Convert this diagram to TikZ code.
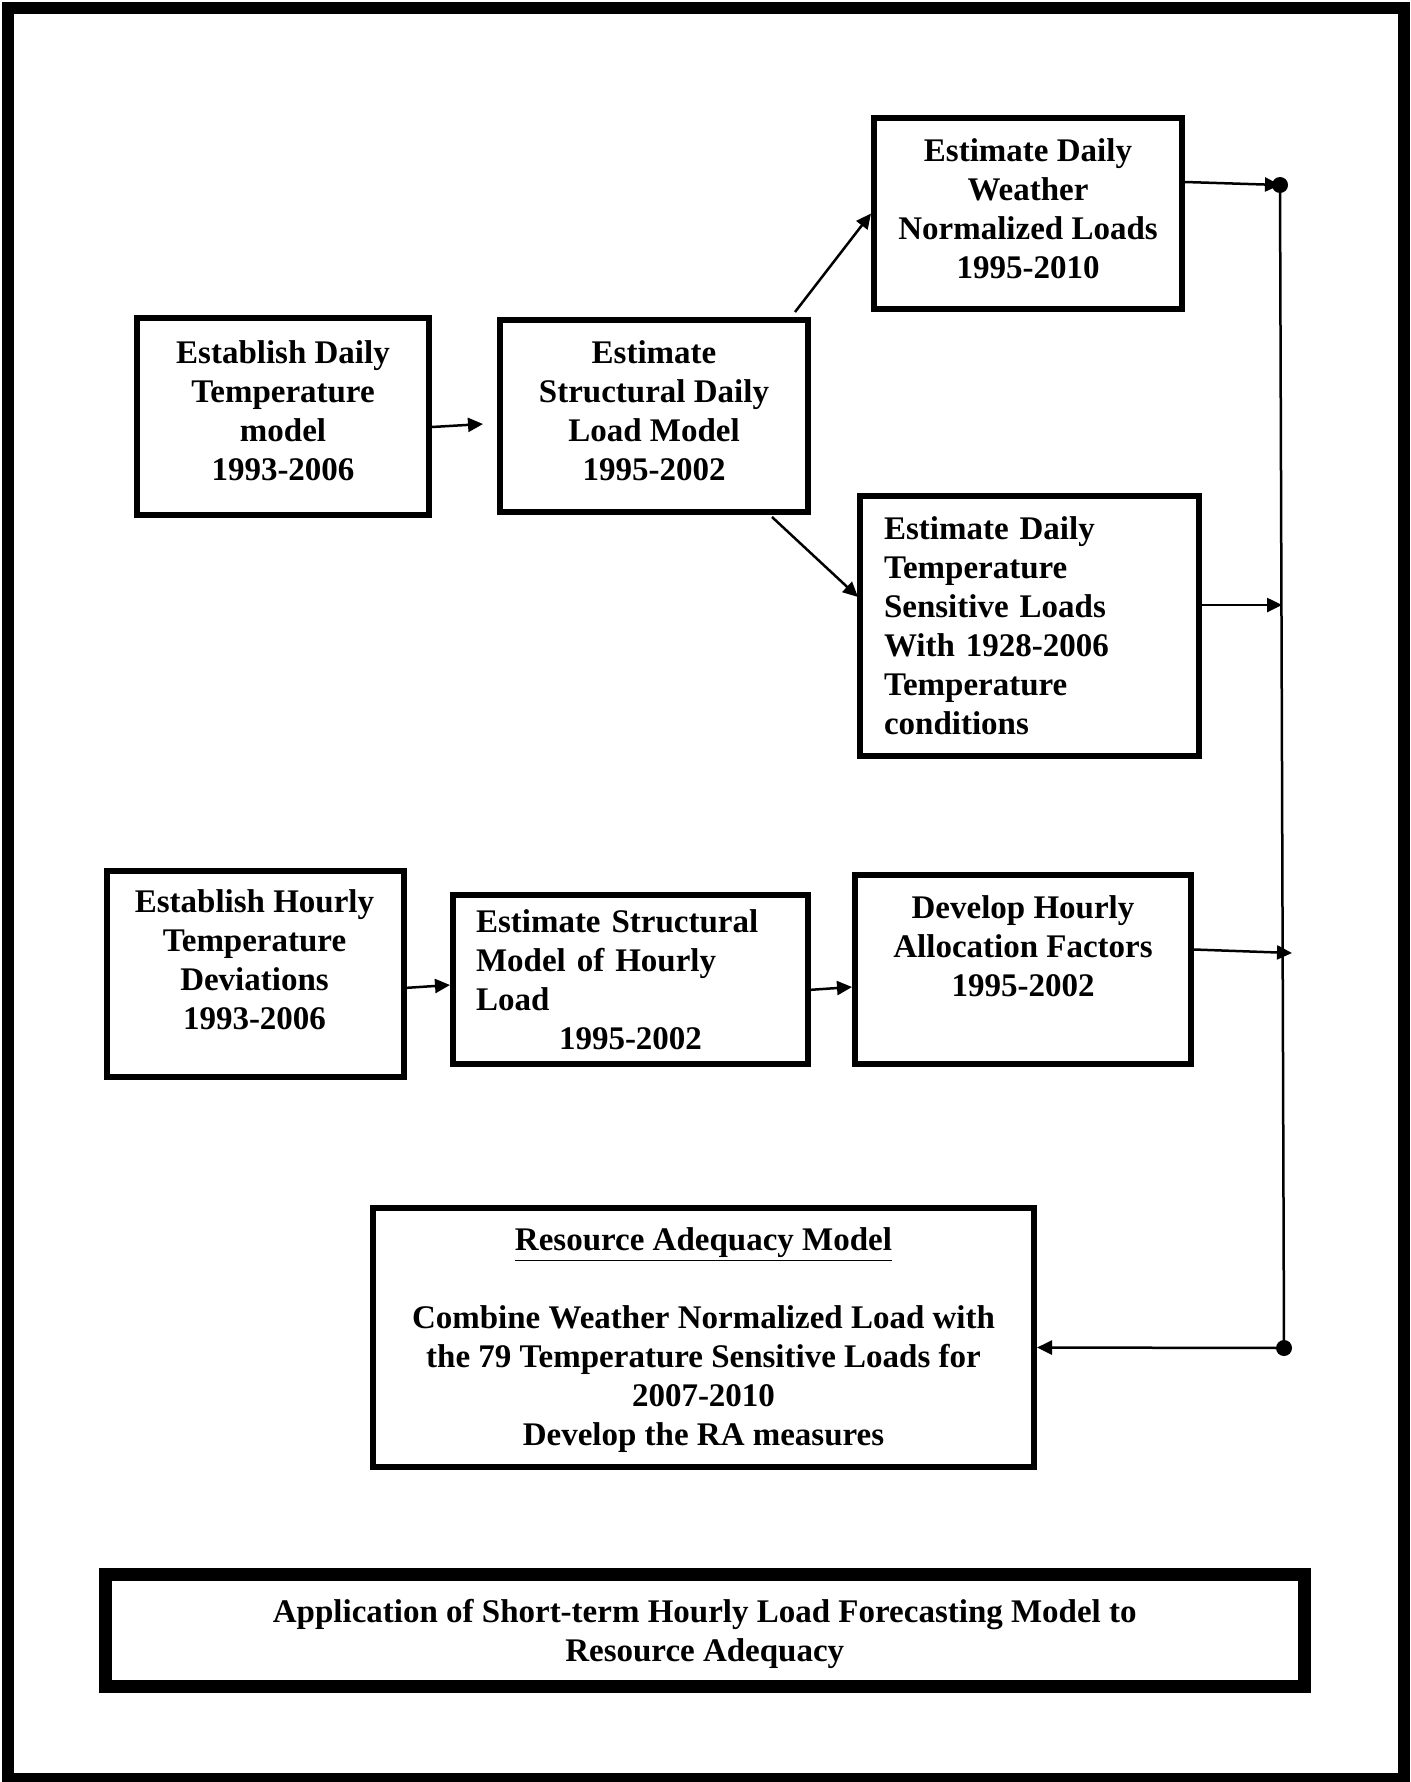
\documentclass[tikz,border=0pt]{standalone}
\usepackage{fontspec}
\setmainfont{Liberation Serif}
\usetikzlibrary{arrows.meta}
\tikzset{
  txt/.style={align=center,font=\bfseries\fontsize{16.5}{19.5}\selectfont},
  box/.style={txt,draw,line width=3pt,inner sep=0pt},
  conn/.style={line width=1.25pt,-{Triangle[length=7.5pt,width=7pt]}},
  bus/.style={line width=1.25pt}
}
\begin{document}
\begin{tikzpicture}[x=0.5pt,y=-0.5pt]
  \useasboundingbox (0,0) rectangle (1410,1782);
  \draw[line width=6pt] (8,8) rectangle (1404,1779);
  \node[box,minimum width=146pt,minimum height=98.5pt] (dailytemp) at (283,416.5) {};
  \node[txt] (dailytemp-txt) at ([yshift=3pt]dailytemp.center) {Establish Daily\\Temperature\\model\\1993-2006};
  \node[box,minimum width=154pt,minimum height=96pt] (strload) at (654,416) {};
  \node[txt] (strload-txt) at ([yshift=2.5pt]strload.center) {Estimate\\Structural Daily\\Load Model\\1995-2002};
  \node[box,minimum width=154pt,minimum height=95.5pt] (wxnorm) at (1028,213.5) {};
  \node[txt] (wxnorm-txt) at ([yshift=2.5pt]wxnorm.center) {Estimate Daily\\Weather\\Normalized Loads\\1995-2010};
  \node[box,align=left,text width=145.5pt,inner xsep=12pt,minimum height=130pt] (tsload) at (1029.5,626) {Estimate Daily\\Temperature\\Sensitive Loads\\With 1928-2006\\Temperature\\conditions};
  \node[box,minimum width=148.5pt,minimum height=103pt] (hrdev) at (255.5,974) {};
  \node[txt] (hrdev-txt) at (254.5,960) {Establish Hourly\\Temperature\\Deviations\\1993-2006};
  \node[box,align=left,text width=154.5pt,inner xsep=11.5pt,minimum height=84.5pt] (hrload) at (630.5,979.5) {Estimate Structural\\Model of Hourly\\Load\\\hspace*{41.5pt}1995-2002};
  \node[box,minimum width=168pt,minimum height=94.5pt] (allocf) at (1023,969.5) {};
  \node[txt] (allocf-txt) at (1023,946) {Develop Hourly\\Allocation Factors\\1995-2002};
  \node[box,minimum width=330.5pt,minimum height=129.5pt] (radeq) at (703.5,1337.5) {};
  \node[txt] (radeq-txt) at ([yshift=-1.5pt]radeq.center) {\underline{Resource Adequacy Model}\\[19.5pt]Combine Weather Normalized Load with\\the 79 Temperature Sensitive Loads for\\2007-2010\\Develop the RA measures};
  \node[box,line width=6.5pt,minimum width=599.25pt,minimum height=56pt] (apptitle) at (704.75,1630.5) {};
  \node[txt] (apptitle-txt) at ([yshift=-1.5pt]apptitle.center) {Application of Short-term Hourly Load Forecasting Model to\\Resource Adequacy};
  \coordinate (bustop) at (1280,185);
  \coordinate (busd) at (1282,605);
  \coordinate (busg) at (1292,953);
  \coordinate (busbot) at (1284,1348);
  \draw[conn] ([yshift=-5.25pt]dailytemp.east) -- ([xshift=-7pt,yshift=-4pt]strload.west);
  \draw[conn] ([xshift=70.5pt,yshift=2.5pt]strload.north) -- (wxnorm.west);
  \draw[conn] ([xshift=59pt,yshift=-1pt]strload.south) -- ([xshift=0.5pt,yshift=14.5pt]tsload.west);
  \draw[conn] ([xshift=-1.5pt,yshift=-7pt]hrdev.east) -- ([yshift=-2.75pt]hrload.west);
  \draw[conn] ([xshift=-1.5pt,yshift=-5.25pt]hrload.east) -- ([yshift=-8.75pt]allocf.west);
  \draw[bus] (bustop) -- (busbot);
  \draw[conn] ([yshift=15.75pt]wxnorm.east) -- (bustop);
  \draw[conn] ([yshift=10.5pt]tsload.east) -- (busd);
  \draw[conn] ([yshift=10pt]allocf.east) -- (busg);
  \draw[conn] (busbot) -- ([yshift=-5pt]radeq.east);
  \fill (bustop) circle (4pt);
  \fill (busbot) circle (4pt);
\end{tikzpicture}
\end{document}
